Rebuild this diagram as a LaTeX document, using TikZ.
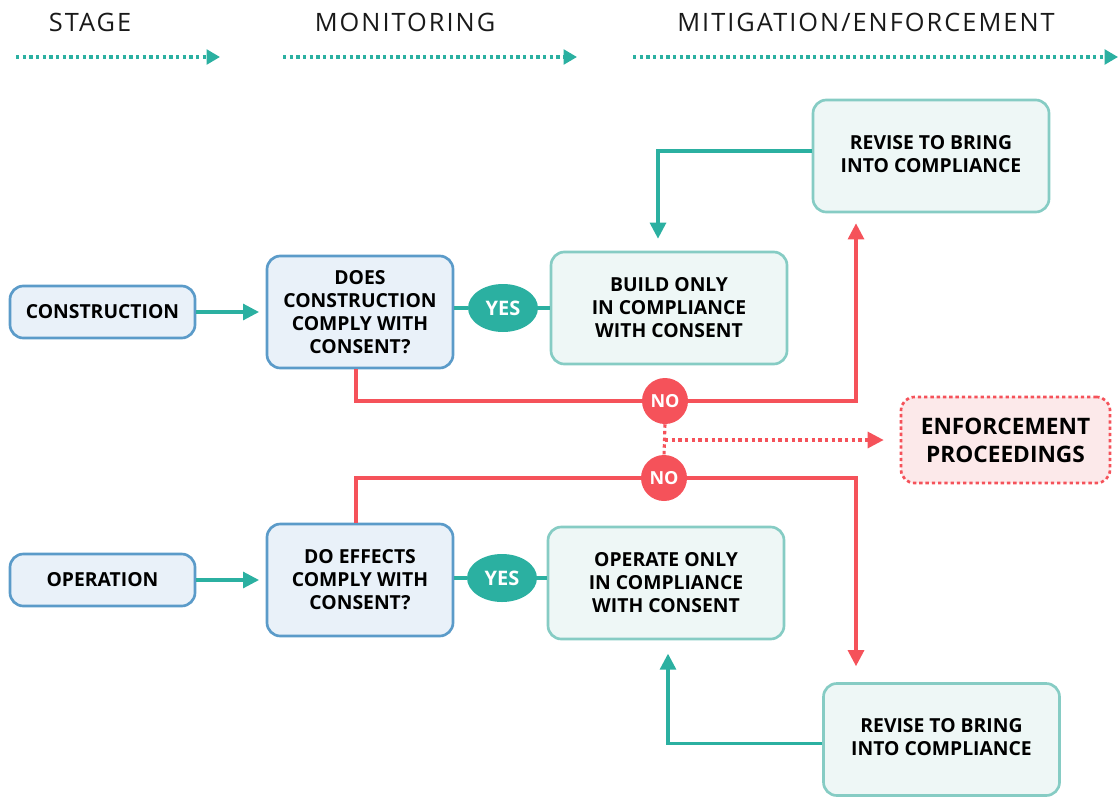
\documentclass[tikz,border=0pt]{standalone}
\usepackage{fontspec}
\setmainfont{Open Sans}
\newfontfamily\hdrfont[LetterSpace=8]{Open Sans}
\usetikzlibrary{arrows.meta,calc,shapes.geometric}
\definecolor{teal1}{HTML}{2BB0A1}
\definecolor{red1}{HTML}{F5525A}
\definecolor{bfill}{HTML}{E9F1F9}
\definecolor{bdraw}{HTML}{5B9BC9}
\definecolor{gfill}{HTML}{EEF7F6}
\definecolor{gdraw}{HTML}{86CCC4}
\definecolor{rfill}{HTML}{FCE9EA}
\tikzset{
  txt/.style={font=\bfseries\fontsize{14.5}{17.3}\selectfont, align=center, text=black},
  bluebox/.style={txt, draw=bdraw, fill=bfill, line width=2pt, rounded corners=10pt, inner sep=0pt},
  greenbox/.style={txt, draw=gdraw, fill=gfill, line width=2pt, rounded corners=10pt, inner sep=0pt, minimum width=177pt, minimum height=84pt},
  enfbox/.style={txt, font=\bfseries\fontsize{17}{21}\selectfont, draw=red1, fill=rfill, line width=2pt, dash pattern=on 2.5pt off 2.2pt, rounded corners=10pt, inner sep=0pt, minimum width=156.75pt, minimum height=64.5pt},
  yesnode/.style={ellipse, fill=teal1, text=white, font=\bfseries\fontsize{15}{17}\selectfont, minimum width=52.5pt, minimum height=36pt, inner sep=0pt},
  nonode/.style={circle, fill=red1, text=white, font=\bfseries\fontsize{13.5}{15}\selectfont, minimum size=34.5pt, inner sep=0pt},
  hdr/.style={font=\hdrfont\fontsize{19}{22}\selectfont, text=black!90},
  tealline/.style={draw=teal1, line width=2.3pt},
  redline/.style={draw=red1, line width=2.3pt},
  tarrow/.style={-{Triangle[length=12pt,width=12pt]}},
  hdrarrow/.style={draw=teal1, line width=2.3pt, dash pattern=on 2.6pt off 2.4pt, -{Triangle[length=10pt,width=11pt]}},
  enfarrow/.style={draw=red1, line width=2.3pt, dash pattern=on 2.6pt off 2.4pt, -{Triangle[length=12pt,width=12pt]}},
}
\begin{document}
\begin{tikzpicture}[x=0.75pt,y=-0.75pt]
\useasboundingbox (0,0) rectangle (1119,796);
% headers
\node[hdr] (hstage) at (90,22) {STAGE};
\node[hdr] (hmon) at (405,22) {MONITORING};
\node[hdr] (hmit) at (866,22) {MITIGATION/ENFORCEMENT};
\coordinate (a1s) at (16,57); \coordinate (a1e) at (220,57);
\coordinate (a2s) at (283,57); \coordinate (a2e) at (577,57);
\coordinate (a3s) at (633,57); \coordinate (a3e) at (1118,57);
\draw[hdrarrow] (a1s) -- (a1e);
\draw[hdrarrow] (a2s) -- (a2e);
\draw[hdrarrow] (a3s) -- (a3e);
% nodes
\node[bluebox, minimum width=138.75pt, minimum height=39pt] (cons) at (102.5,312) {CONSTRUCTION};
\node[bluebox, minimum width=139.5pt, minimum height=84pt] (does) at (360,312) {DOES\\CONSTRUCTION\\COMPLY WITH\\CONSENT?};
\node[yesnode] (yes1) at (503,308) {YES};
\node[greenbox] (build) at (669,308) {BUILD ONLY\\IN COMPLIANCE\\WITH CONSENT};
\node[greenbox] (rev1) at (931,156) {REVISE TO BRING\\INTO COMPLIANCE\vphantom{g}};
\node[nonode] (no1) at (665,401) {NO};
\node[enfbox] (enf) at (1005.5,440) {ENFORCEMENT\\PROCEEDINGS};
\node[nonode] (no2) at (664,478) {NO};
\node[bluebox, minimum width=138.75pt, minimum height=39pt] (oper) at (102.5,580) {OPERATION};
\node[bluebox, minimum width=139.5pt, minimum height=84pt] (doeff) at (360,580) {DO EFFECTS\\COMPLY WITH\\CONSENT?};
\node[yesnode] (yes2) at (502,578) {YES};
\node[greenbox] (operate) at (666,583) {OPERATE ONLY\\IN COMPLIANCE\\WITH CONSENT};
\node[greenbox] (rev2) at (941.5,739.5) {REVISE TO BRING\\INTO COMPLIANCE\vphantom{g}};
% connectors
\draw[tealline, tarrow, shorten >=5pt] (cons.east) -- (does.west);
\draw[tealline, tarrow, shorten >=5pt] (oper.east) -- (doeff.west);
\draw[tealline] (does.east |- yes1.west) -- (yes1.west);
\draw[tealline] (yes1.east) -- (build.west |- yes1.east);
\draw[tealline] (doeff.east |- yes2.west) -- (yes2.west);
\draw[tealline] (yes2.east) -- (operate.west |- yes2.east);
\draw[tealline, tarrow, shorten >=9pt] ($(rev1.west)+(0,-5)$) -| ($(build.north)+(-11,0)$);
\draw[tealline, tarrow, shorten >=10pt] ($(rev2.west)+(0,4)$) -| ($(operate.south)+(2,0)$);
\draw[redline] ($(does.south)+(-4,0)$) |- (no1.west);
\draw[redline, tarrow, shorten >=7.5pt] (no1.east) -| ($(rev1.south)+(-75,0)$);
\draw[redline] ($(doeff.north)+(-4,0)$) |- (no2.west);
\draw[redline, tarrow, shorten >=12pt] (no2.east) -| ($(rev2.north)+(-85.5,0)$);
\draw[draw=red1, line width=2.3pt, dash pattern=on 2.6pt off 2.4pt] (no1.south) -- (no2.north);
\draw[enfarrow, shorten >=12pt] (no1.south |- enf.west) -- (enf.west);
\end{tikzpicture}
\end{document}
